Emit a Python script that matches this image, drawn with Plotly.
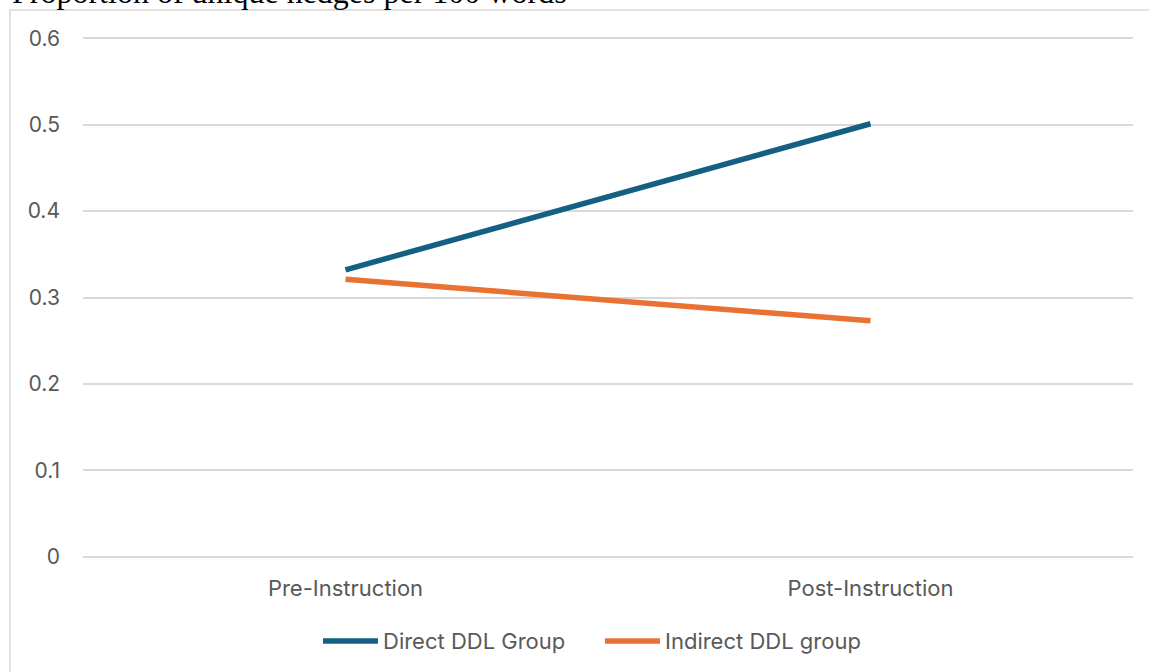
import plotly.graph_objects as go

# Data
stages = ["Pre-Instruction", "Post-Instruction"]
series_names = ["Direct DDL Group", "Indirect DDL group"]
direct_ddl = [0.332, 0.501]
indirect_ddl = [0.321, 0.273]
y_ticks = [0, 0.1, 0.2, 0.3, 0.4, 0.5, 0.6]
y_tick_text = ["0", "0.1", "0.2", "0.3", "0.4", "0.5", "0.6"]

W, H = 1149, 672
Y_MIN, Y_MAX = 0.0, 0.6
PAD = 0.0025                      # small headroom so the end gridlines are drawn
PX_PER_UNIT = (557 - 38) / (Y_MAX - Y_MIN)
L, R = 83, 16
T = round(38 - PAD * PX_PER_UNIT)
B = round(H - 557 - PAD * PX_PER_UNIT)
pw, ph = W - L - R, H - T - B

def px_x(p):
    return (p - L) / pw

def px_y(p):
    return (H - B - p) / ph

TEXT = "#595959"
GRID = "#d9d9d9"
COLORS = ["#156082", "#E97132"]
FONT = "Inter, Liberation Sans, Arial, sans-serif"

fig = go.Figure()
for name, vals, col in zip(series_names, [direct_ddl, indirect_ddl], COLORS):
    fig.add_trace(go.Scatter(x=stages, y=vals, mode="lines", name=name,
                             line=dict(color=col, width=5.5), showlegend=False))

fig.update_layout(
    width=W, height=H,
    margin=dict(l=L, r=R, t=T, b=B, pad=0),
    paper_bgcolor="white", plot_bgcolor="white",
    font=dict(family=FONT, size=20, color=TEXT),
    xaxis=dict(type="category", range=[-0.5, 1.5], showgrid=False, showline=False,
               zeroline=False, ticks="", ticklabelstandoff=14,
               tickfont=dict(family=FONT, size=22, color=TEXT)),
    yaxis=dict(range=[Y_MIN - PAD, Y_MAX + PAD], tickvals=y_ticks, ticktext=y_tick_text,
               showgrid=True, gridcolor=GRID, gridwidth=1.5, zeroline=False, showline=False,
               ticks="", ticklabelstandoff=22, tickfont=dict(family=FONT, size=21, color=TEXT)),
)

# Chart frame
fig.add_shape(type="rect", xref="paper", yref="paper",
              x0=px_x(10), x1=px_x(1170), y0=px_y(700), y1=px_y(10),
              line=dict(color=GRID, width=1.5), fillcolor="rgba(0,0,0,0)", layer="below")

# Legend drawn below the plot: long line swatches followed by labels
legend_y = px_y(641)
legend_starts = [323, 605]
for name, col, x0 in zip(series_names, COLORS, legend_starts):
    fig.add_shape(type="line", xref="paper", yref="paper",
                  x0=px_x(x0), x1=px_x(x0 + 55), y0=legend_y, y1=legend_y,
                  line=dict(color=col, width=5.5))
    fig.add_annotation(text=name, xref="paper", yref="paper", x=px_x(x0 + 58), xanchor="left",
                       y=legend_y, yanchor="middle", showarrow=False,
                       font=dict(family=FONT, size=22, color=TEXT))

# Caption above the frame
fig.add_annotation(text="Proportion of unique hedges per 100 words", xref="paper", yref="paper",
                   x=px_x(10), xanchor="left", y=px_y(-8), yanchor="middle", showarrow=False,
                   font=dict(family="Liberation Serif, Times New Roman, serif", size=32, color="black"))

fig.write_html("out.html")
